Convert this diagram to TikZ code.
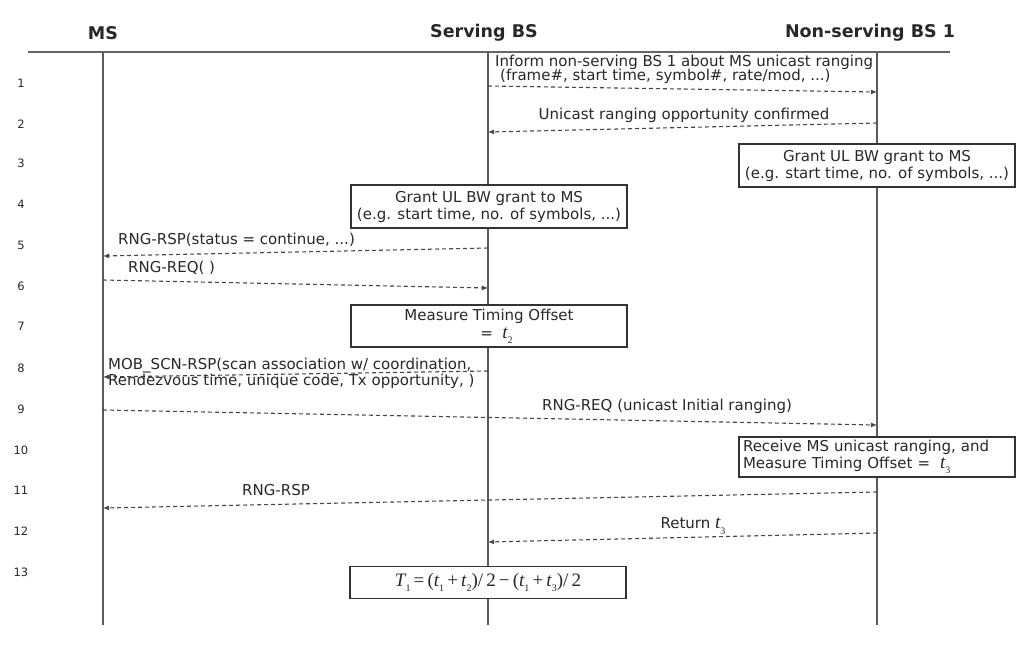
\documentclass[tikz,border=0pt]{standalone}
\usepackage{fontspec}
\setmainfont{DejaVu Sans}
\newfontfamily\tms{Liberation Serif}
\usetikzlibrary{arrows.meta}
\definecolor{lifec}{RGB}{90,90,90}
\definecolor{msgc}{RGB}{70,70,70}
\definecolor{txtc}{RGB}{40,40,40}
\newcommand\tv[2]{{\tms\itshape #1}\raisebox{-0.28em}{\fontsize{10}{10}\selectfont\tms #2}}
\tikzset{
  lifeline/.style={draw=lifec,line width=1.2pt},
  msg/.style={draw=msgc,line width=1.1pt,dash pattern=on 4pt off 3pt,-{Latex[length=6pt,width=5pt]}},
  lbl/.style={inner sep=0pt,text=txtc,font=\fontsize{15}{16}\selectfont},
  hdr/.style={inner sep=0pt,text=txtc,font=\bfseries\fontsize{17.5}{19}\selectfont},
  rownum/.style={inner sep=0pt,text=txtc,font=\fontsize{11.5}{13}\selectfont},
  actbox/.style={draw=black!80,line width=1.3pt,fill=white,minimum width=276pt,inner sep=2pt,align=center,text=txtc,font=\fontsize{15}{17}\selectfont},
  mathbig/.style={font=\tms\fontsize{19}{20}\selectfont},
}
\begin{document}
\begin{tikzpicture}[x=1pt,y=-1pt]
\useasboundingbox[fill=white] (0,0) rectangle (1018,648);
% headers
\node[hdr] (hms) at (103,33) {MS};
\node[hdr] (hsb) at (484,33) {Serving BS};
\node[hdr] (hnb) at (870,33) {Non-serving BS 1};
\draw[black!60,line width=1.6pt] (28,52) -- (950,52);
% lifelines
\coordinate (msT) at (103,52); \coordinate (msB) at (103,625);
\coordinate (sbT) at (488,52); \coordinate (sbB) at (488,625);
\coordinate (nbT) at (877,52); \coordinate (nbB) at (877,625);
\draw[lifeline] (msT) -- (msB);
\draw[lifeline] (sbT) -- (sbB);
\draw[lifeline] (nbT) -- (nbB);
% row numbers
\foreach \n/\yy in {1/83,2/124,3/163,4/204,5/245,6/286,7/326,8/368,9/409,10/450,11/490,12/531,13/572}
  \node[rownum] (r\n) at (21,\yy) {\n};
% 1
\node[lbl,anchor=west] (t1a) at (495,62) {Inform non-serving BS 1 about MS unicast ranging};
\node[lbl,anchor=west] (t1b) at (500,76) {(frame\#, start time, symbol\#, rate/mod, ...)};
\coordinate (a1s) at (488,86); \coordinate (a1e) at (877,92);
\draw[msg] (a1s) -- (a1e);
% 2
\node[lbl] (t2) at (684,115) {Unicast ranging opportunity confirmed};
\coordinate (a2s) at (877,123); \coordinate (a2e) at (488,132);
\draw[msg] (a2s) -- (a2e);
% 3
\node[actbox,minimum height=43pt] (b3) at (877,165.5) {Grant UL BW grant to MS\\(e.g. start time, no. of symbols, ...)};
% 4
\node[actbox,minimum height=43pt] (b4) at (489,206.5) {Grant UL BW grant to MS\\(e.g. start time, no. of symbols, ...)};
% 5
\node[lbl,anchor=west] (t5) at (118,240) {RNG-RSP(status = continue, ...)};
\coordinate (a5s) at (488,248); \coordinate (a5e) at (103,256);
\draw[msg] (a5s) -- (a5e);
% 6
\node[lbl,anchor=west] (t6) at (128,268) {RNG-REQ( )};
\coordinate (a6s) at (103,280); \coordinate (a6e) at (488,288);
\draw[msg] (a6s) -- (a6e);
% 7
\node[actbox,minimum height=42pt] (b7) at (489,326) {Measure Timing Offset\\[1pt]\hspace*{1em}= \ {\fontsize{19}{17}\selectfont\tv{t}{2}}};
% 8
\coordinate (a8s) at (488,371); \coordinate (a8e) at (103,377);
\draw[msg] (a8s) -- (a8e);
\node[lbl,anchor=west] (t8a) at (108,366) {MOB\_SCN-RSP(scan association w/ coordination,};
\node[lbl,anchor=west] (t8b) at (108,381) {Rendezvous time, unique code, Tx opportunity, )};
% 9
\node[lbl] (t9) at (667,406) {RNG-REQ (unicast Initial ranging)};
\coordinate (a9s) at (103,410); \coordinate (a9e) at (877,425);
\draw[msg] (a9s) -- (a9e);
% 10
\node[actbox,minimum height=40pt,text width=268pt,align=left] (b10) at (877,457) {Receive MS unicast ranging, and\\Measure Timing Offset = \ {\fontsize{19}{17}\selectfont\tv{t}{3}}};
% 11
\node[lbl] (t11) at (276,490) {RNG-RSP};
\coordinate (a11s) at (877,492); \coordinate (a11e) at (103,508);
\draw[msg] (a11s) -- (a11e);
% 12
\node[lbl] (t12) at (693,526) {Return {\fontsize{19}{17}\selectfont\tv{t}{3}}};
\coordinate (a12s) at (877,533); \coordinate (a12e) at (488,542);
\draw[msg] (a12s) -- (a12e);
% 13
\node[actbox,minimum height=32pt,mathbig] (b13) at (488,582.5) {\tv{T}{1}\,=\,(\tv{t}{1}\,+\,\tv{t}{2})/\,2\,−\,(\tv{t}{1}\,+\,\tv{t}{3})/\,2};
\end{tikzpicture}
\end{document}
